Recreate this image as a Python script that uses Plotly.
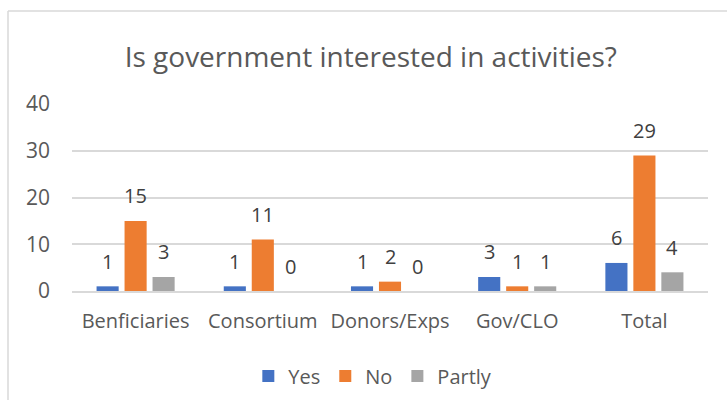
import plotly.graph_objects as go

categories = ["Benficiaries", "Consortium", "Donors/Exps", "Gov/CLO", "Total"]
series_names = ["Yes", "No", "Partly"]
yes_vals = [1, 1, 1, 3, 6]
no_vals = [15, 11, 2, 1, 29]
partly_vals = [3, 0, 0, 1, 4]
y_ticks = [0, 10, 20, 30, 40]

colors = ["#4472C4", "#ED7D31", "#A5A5A5"]
values = [yes_vals, no_vals, partly_vals]

FONT = "Open Sans"
W, H = 727, 407
ml, mr, mt, mb = 72, 19, 104, 116

fig = go.Figure()
for name, vals, c in zip(series_names, values, colors):
    fig.add_trace(go.Bar(x=categories, y=vals, name=name, marker_color=c,
                         marker_line_width=0))

# data labels
slot = (W - ml - mr) / len(categories) * (1 - 0.34) / 3
annotations = []
for i, vals in enumerate(values):
    for cat, v in zip(categories, vals):
        annotations.append(dict(x=cat, y=v, text=str(v), showarrow=False,
                                xshift=(i - 1) * slot, yshift=25,
                                yanchor="middle",
                                font=dict(family=FONT, size=20, color="#404040")))

pw = W - ml - mr
ph = H - mt - mb
def px_x(p):
    return (p - ml) / pw
def px_y(p):
    return (H - mb - p) / ph

shapes = [
    dict(type="line", xref="paper", yref="paper", x0=px_x(8), x1=px_x(8),
         y0=px_y(400), y1=px_y(11), line=dict(color="#D9D9D9", width=1.5)),
    dict(type="line", xref="paper", yref="paper", x0=px_x(8), x1=px_x(727),
         y0=px_y(11), y1=px_y(11), line=dict(color="#D9D9D9", width=1.5)),
]

fig.update_layout(
    width=W, height=H,
    margin=dict(l=ml, r=mr, t=mt, b=mb),
    paper_bgcolor="white", plot_bgcolor="white",
    barmode="group", bargap=0.34, bargroupgap=0.21,
    title=dict(text="Is government interested in activities?", x=0.51, xanchor="center",
               y=1 - 57 / H, yanchor="middle",
               font=dict(family=FONT, size=28, color="#595959")),
    font=dict(family=FONT, size=19, color="#595959"),
    xaxis=dict(showgrid=False, showline=True, linecolor="#D9D9D9", linewidth=1.5,
               ticks="", ticklabelstandoff=11,
               tickfont=dict(family=FONT, size=20, color="#595959")),
    yaxis=dict(range=[0, 40], tickvals=y_ticks, showgrid=True, gridcolor="#D9D9D9",
               gridwidth=1.5, zeroline=False, showline=False, ticks="",
               ticklabelstandoff=21,
               tickfont=dict(family=FONT, size=21, color="#595959")),
    legend=dict(orientation="h", x=0.473, xanchor="center", y=px_y(376), yanchor="middle",
                font=dict(family=FONT, size=20, color="#595959"), itemwidth=30),
    annotations=annotations,
    shapes=shapes,
)

fig.write_html("out.html")
